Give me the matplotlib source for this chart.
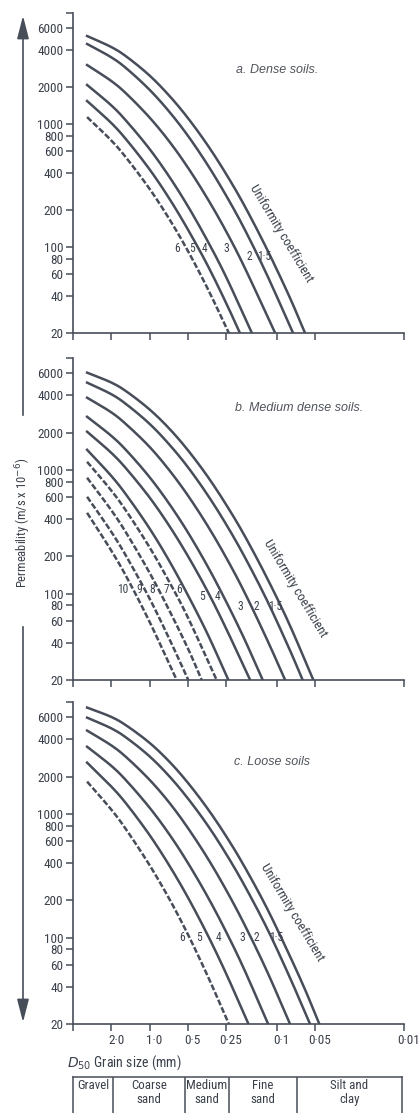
"""Permeability vs D50 grain size for dense, medium dense and loose soils."""

import numpy as np
import matplotlib
matplotlib.use('Agg')
import matplotlib.pyplot as plt
import matplotlib.font_manager as fm
import matplotlib.transforms as mtransforms
from matplotlib.patches import FancyArrowPatch
from matplotlib.ticker import NullLocator, FixedLocator, FixedFormatter

# =============================================================================
# Data: grain size D50 (mm) and permeability (m/s x 1e-6)
# =============================================================================
A_LABELS = ['1·5', '2', '3', '4', '5', '6']
A_DASHED = [False, False, False, False, False, True]
A_D = [[3.10, 2.0, 1.5, 1.0, 0.7, 0.5, 0.35, 0.25, 0.18, 0.12, 0.08, 0.060],
       [3.10, 2.0, 1.5, 1.0, 0.7, 0.5, 0.35, 0.25, 0.18, 0.12, 0.0745],
       [3.10, 2.0, 1.5, 1.0, 0.7, 0.5, 0.35, 0.25, 0.18, 0.103],
       [3.10, 2.0, 1.5, 1.0, 0.7, 0.5, 0.35, 0.25, 0.157],
       [3.10, 2.0, 1.5, 1.0, 0.7, 0.5, 0.35, 0.25, 0.195],
       [3.10, 2.0, 1.5, 1.0, 0.7, 0.5, 0.35, 0.238]]
A_K = [[5200, 4230, 3500, 2480, 1700, 1120, 674, 392, 218, 97, 40, 20],
       [4480, 3490, 2800, 1900, 1260, 804, 466, 262, 141, 60, 20],
       [3020, 2240, 1740, 1130, 722, 443, 247, 134, 69, 20],
       [2080, 1420, 1040, 627, 373, 215, 112, 57, 20],
       [1540, 1020, 733, 428, 248, 139, 71, 35, 20],
       [1140, 735, 520, 297, 169, 93, 46, 20]]
A_LAB_D = [0.125, 0.165, 0.251, 0.370, 0.464, 0.61]
A_LAB_K = [83, 83, 98, 98, 98, 98]

B_LABELS = ['1·5', '2', '3', '4', '5', '6', '7', '8', '9', '10']
B_DASHED = [False] * 6 + [True] * 4
B_D = [[3.10, 2.0, 1.5, 1.0, 0.7, 0.5, 0.35, 0.25, 0.18, 0.12, 0.08, 0.0516],
       [3.10, 2.0, 1.5, 1.0, 0.7, 0.5, 0.35, 0.25, 0.18, 0.12, 0.08, 0.0626],
       [3.10, 2.0, 1.5, 1.0, 0.7, 0.5, 0.35, 0.25, 0.18, 0.12, 0.086],
       [3.10, 2.0, 1.5, 1.0, 0.7, 0.5, 0.35, 0.25, 0.18, 0.129],
       [3.10, 2.0, 1.5, 1.0, 0.7, 0.5, 0.35, 0.25, 0.162],
       [3.10, 2.0, 1.5, 1.0, 0.7, 0.5, 0.35, 0.240],
       [3.10, 2.0, 1.5, 1.0, 0.7, 0.5, 0.297],
       [3.10, 2.0, 1.5, 1.0, 0.7, 0.5, 0.389],
       [3.10, 2.0, 1.5, 1.0, 0.7, 0.496],
       [3.10, 2.0, 1.5, 1.0, 0.612]]
B_K = [[6090, 5070, 4250, 3070, 2150, 1440, 883, 522, 296, 135, 57, 20],
       [5060, 4080, 3340, 2350, 1600, 1050, 626, 362, 200, 89, 36, 20],
       [3820, 2910, 2290, 1530, 992, 620, 353, 195, 103, 43, 20],
       [2680, 1880, 1410, 871, 530, 312, 166, 86, 43, 20],
       [2030, 1370, 1000, 597, 352, 201, 104, 52, 20],
       [1450, 891, 612, 335, 183, 97, 47, 20],
       [1160, 679, 452, 236, 124, 64, 20],
       [862, 471, 300, 147, 73, 36, 20],
       [605, 315, 194, 91, 43, 20],
       [449, 222, 133, 59, 20]]
B_LAB_D = [0.103, 0.146, 0.195, 0.295, 0.387, 0.587, 0.743, 0.957, 1.21, 1.62]
B_LAB_K = [79, 79, 79, 94, 94, 107, 107, 107, 107, 107]

C_LABELS = ['1·5', '2', '3', '4', '5', '6']
C_DASHED = [False, False, False, False, False, True]
C_D = [[3.10, 2.0, 1.5, 1.0, 0.7, 0.5, 0.35, 0.25, 0.18, 0.12, 0.08, 0.06, 0.0463],
       [3.10, 2.0, 1.5, 1.0, 0.7, 0.5, 0.35, 0.25, 0.18, 0.12, 0.08, 0.0548],
       [3.10, 2.0, 1.5, 1.0, 0.7, 0.5, 0.35, 0.25, 0.18, 0.12, 0.0787],
       [3.10, 2.0, 1.5, 1.0, 0.7, 0.5, 0.35, 0.25, 0.18, 0.117],
       [3.10, 2.0, 1.5, 1.0, 0.7, 0.5, 0.35, 0.25, 0.167],
       [3.10, 2.0, 1.5, 1.0, 0.7, 0.5, 0.35, 0.238]]
C_K = [[7210, 6060, 5110, 3740, 2640, 1780, 1100, 658, 376, 174, 73, 38, 20],
       [5980, 4900, 4070, 2910, 2010, 1330, 808, 473, 265, 120, 49, 20],
       [4700, 3570, 2820, 1880, 1230, 768, 438, 242, 128, 54, 20],
       [3480, 2440, 1820, 1120, 683, 401, 214, 111, 55, 20],
       [2590, 1660, 1180, 673, 382, 211, 105, 51, 20],
       [1820, 1080, 725, 384, 205, 106, 49, 20]]
C_LAB_D = [0.1014, 0.146, 0.188, 0.285, 0.409, 0.556]
C_LAB_K = [100, 100, 100, 100, 100, 100]

Y_TICKS = [20, 40, 60, 80, 100, 200, 400, 600, 800, 1000, 2000, 4000, 6000, 8000]
Y_TICKLABELS = ['20', '40', '60', '80', '100', '200', '400', '600', '800',
                '1000', '2000', '4000', '6000', '']
X_TICKS = [4.0, 2.0, 1.0, 0.5, 0.25, 0.1, 0.05, 0.01]
X_TICKLABELS = ['', '2·0', '1·0', '0·5', '0·25', '0·1', '0·05', '0·01']

SOIL_NAMES = ['Gravel', 'Coarse\nsand', 'Medium\nsand', 'Fine\nsand', 'Silt and\nclay']
SOIL_EDGES = [4.0, 1.94, 0.53, 0.237, 0.069, 0.0103]

# =============================================================================
# Style
# =============================================================================
LINE_COLOR = '#474d59'
TEXT_COLOR = '#3a404a'
TITLE_COLOR = '#50555c'


def pick_font(names):
    for n in names:
        try:
            fm.findfont(fm.FontProperties(family=n), fallback_to_default=False)
            return n
        except Exception:
            pass
    return 'DejaVu Sans'


COND = pick_font(['Liberation Sans Narrow', 'DejaVu Sans Condensed',
                  'Roboto Condensed', 'DejaVu Sans'])
ITAL = pick_font(['Liberation Sans', 'DejaVu Sans'])
plt.rcParams['font.family'] = COND
plt.rcParams['mathtext.fontset'] = 'dejavusans'

XLIM = (4.0, 0.01)
YLIM = (20, 8000)


# =============================================================================
# Functions
# =============================================================================
def smooth(d, k, n=16):
    # Catmull-Rom in log space through the read points
    P = np.column_stack([np.log10(d), np.log10(k)])
    P = np.vstack([2 * P[0] - P[1], P, 2 * P[-1] - P[-2]])
    t = np.linspace(0, 1, n, endpoint=False)[:, None]
    out = []
    for i in range(1, len(P) - 2):
        p0, p1, p2, p3 = P[i - 1], P[i], P[i + 1], P[i + 2]
        seg = 0.5 * (2 * p1 + (-p0 + p2) * t
                     + (2 * p0 - 5 * p1 + 4 * p2 - p3) * t ** 2
                     + (-p0 + 3 * p1 - 3 * p2 + p3) * t ** 3)
        out.append(seg)
    out.append(P[-2][None, :])
    out = np.vstack(out)
    return 10 ** out[:, 0], 10 ** out[:, 1]


def setup_axes(ax, show_xlabels):
    ax.set_xscale('log')
    ax.set_yscale('log')
    ax.set_xlim(XLIM)
    ax.set_ylim(YLIM)
    for s in ['top', 'right']:
        ax.spines[s].set_visible(False)
    for s in ['left', 'bottom']:
        ax.spines[s].set_color(LINE_COLOR)
        ax.spines[s].set_linewidth(1.2)
    ax.yaxis.set_major_locator(FixedLocator(Y_TICKS))
    ax.yaxis.set_major_formatter(FixedFormatter(Y_TICKLABELS))
    ax.yaxis.set_minor_locator(NullLocator())
    ax.xaxis.set_major_locator(FixedLocator(X_TICKS))
    if show_xlabels:
        ax.xaxis.set_major_formatter(FixedFormatter(X_TICKLABELS))
    else:
        ax.xaxis.set_major_formatter(FixedFormatter([''] * len(X_TICKS)))
    ax.xaxis.set_minor_locator(NullLocator())
    ax.tick_params(axis='both', direction='out', length=5, width=1.1,
                   color=LINE_COLOR, labelcolor=TEXT_COLOR, labelsize=9.5, pad=2)
    ax.patch.set_alpha(0)


def plot_panel(ax, D, K, dashed, labels, lab_d, lab_k, title, title_pos, uc_pos):
    for d, k, dash in zip(D, K, dashed):
        xs, ys = smooth(d, k)
        if dash:
            ax.plot(xs, ys, color=LINE_COLOR, linewidth=1.8,
                    linestyle=(0, (2.4, 0.9)), solid_capstyle='butt')
        else:
            ax.plot(xs, ys, color=LINE_COLOR, linewidth=1.8)
    for lab, x, y in zip(labels, lab_d, lab_k):
        ax.text(x, y, lab, fontsize=8.3, color=TEXT_COLOR, ha='center', va='center')
    ax.text(title_pos[0], title_pos[1], title, transform=ax.transAxes,
            family=ITAL, style='italic', fontsize=9, color=TITLE_COLOR,
            ha='center', va='center')
    ax.text(uc_pos[0], uc_pos[1], 'Uniformity coefficient', transform=ax.transAxes,
            fontsize=9.4, color=TEXT_COLOR, rotation=-59, rotation_mode='anchor',
            ha='center', va='center')


# =============================================================================
# Plot
# =============================================================================
fig = plt.figure(figsize=(4.2, 11.13), dpi=100)

LEFT, WIDTH = 73 / 420, 331 / 420
ax1 = fig.add_axes([LEFT, 1 - 333 / 1113, WIDTH, 320 / 1113])
ax2 = fig.add_axes([LEFT, 1 - 680 / 1113, WIDTH, 322 / 1113])
ax3 = fig.add_axes([LEFT, 1 - 1024 / 1113, WIDTH, 322 / 1113])

setup_axes(ax1, False)
setup_axes(ax2, False)
setup_axes(ax3, True)

# grain size labels sit a little to the right of their ticks
shift = mtransforms.ScaledTranslation(5 / 100, 0, fig.dpi_scale_trans)
for lbl in ax3.get_xticklabels():
    lbl.set_transform(lbl.get_transform() + shift)

plot_panel(ax1, A_D, A_K, A_DASHED, A_LABELS, A_LAB_D, A_LAB_K,
           'a. Dense soils.', (0.616, 0.822), (0.628, 0.31))
plot_panel(ax2, B_D, B_K, B_DASHED, B_LABELS, B_LAB_D, B_LAB_K,
           'b. Medium dense soils.', (0.683, 0.845), (0.671, 0.283))
plot_panel(ax3, C_D, C_K, C_DASHED, C_LABELS, C_LAB_D, C_LAB_K,
           'c. Loose soils', (0.601, 0.814), (0.662, 0.348))

# -----------------------------------------------------------------------------
# Axis labels and big arrows
# -----------------------------------------------------------------------------
fig.text(67 / 420, 1 - 1063 / 1113, r'$D_{50}$ Grain size (mm)', fontsize=10,
         color=TEXT_COLOR, ha='left', va='center')
fig.text(23 / 420, 1 - 523 / 1113, r'Permeability (m/s x 10$^{-6}$)', fontsize=9,
         color=TEXT_COLOR, rotation=90, ha='center', va='center')

arrow_up = FancyArrowPatch((23 / 420, 1 - 418 / 1113), (23 / 420, 1 - 13 / 1113),
                           transform=fig.transFigure,
                           arrowstyle='-|>,head_length=0.7,head_width=0.18',
                           mutation_scale=20, color=LINE_COLOR, linewidth=1.2)
arrow_dn = FancyArrowPatch((23 / 420, 1 - 624 / 1113), (23 / 420, 1 - 1025 / 1113),
                           transform=fig.transFigure,
                           arrowstyle='-|>,head_length=0.7,head_width=0.18',
                           mutation_scale=20, color=LINE_COLOR, linewidth=1.2)
fig.patches.extend([arrow_up, arrow_dn])

# -----------------------------------------------------------------------------
# Soil classification table
# -----------------------------------------------------------------------------
axt = fig.add_axes([LEFT, -0.01, (402 - 73) / 420, (1113 - 1077) / 1113 + 0.01])
axt.set_xscale('log')
axt.set_xlim(SOIL_EDGES[0], SOIL_EDGES[-1])
axt.set_ylim(0, 1)
axt.xaxis.set_major_locator(NullLocator())
axt.xaxis.set_minor_locator(NullLocator())
axt.set_yticks([])
axt.spines['bottom'].set_visible(False)
for s in ['left', 'right', 'top']:
    axt.spines[s].set_color(LINE_COLOR)
    axt.spines[s].set_linewidth(1.1)
for e in SOIL_EDGES[1:-1]:
    axt.axvline(e, color=LINE_COLOR, linewidth=1.1)
for i, name in enumerate(SOIL_NAMES):
    xc = np.sqrt(SOIL_EDGES[i] * SOIL_EDGES[i + 1])
    axt.text(xc, 0.95, name, fontsize=9.3, color=TEXT_COLOR, ha='center', va='top',
             linespacing=1.1)

fig.savefig('out.png', dpi=100)
